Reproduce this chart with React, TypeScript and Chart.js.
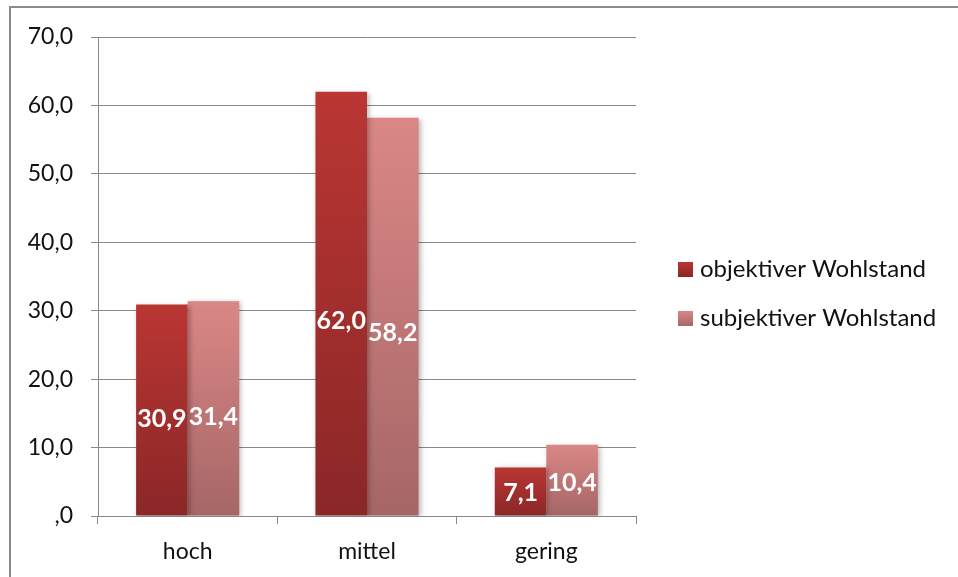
import React, { useEffect, useRef } from "react";
import { Chart, registerables } from "chart.js";

Chart.register(...registerables);

const categories = ["hoch", "mittel", "gering"];
const seriesNames = ["objektiver Wohlstand", "subjektiver Wohlstand"];
const objektiv = [30.9, 62.0, 7.1];
const subjektiv = [31.4, 58.2, 10.4];
const valueLabelsObj = ["30,9", "62,0", "7,1"];
const valueLabelsSubj = ["31,4", "58,2", "10,4"];
const yTickLabels = [",0", "10,0", "20,0", "30,0", "40,0", "50,0", "60,0", "70,0"];

const gradObj = ["#ba3633", "#8a2727"];
const gradSubj = ["#da8786", "#a66666"];

const FONT = "Lato, 'Open Sans', sans-serif";

function barGradient(colors: string[]) {
  return (ctx: any) => {
    const chart = ctx.chart;
    const ys = chart.scales && chart.scales.y;
    if (!chart.chartArea || !ys || ctx.raw === undefined) return colors[0];
    const top = ys.getPixelForValue(ctx.raw);
    const base = ys.getPixelForValue(0);
    if (!isFinite(top) || !isFinite(base) || top === base) return colors[0];
    const g = chart.ctx.createLinearGradient(0, top, 0, base);
    g.addColorStop(0, colors[0]);
    g.addColorStop(1, colors[1]);
    return g;
  };
}

const borderPlugin = {
  id: "outerBorder",
  beforeDraw(chart: any) {
    const c = chart.ctx;
    c.save();
    c.strokeStyle = "#8a8a8a";
    c.lineWidth = 2;
    c.strokeRect(10, 7, 2000, 2000);
    c.restore();
  },
};

const shadowPlugin = {
  id: "barShadow",
  beforeDatasetsDraw(chart: any) {
    const c = chart.ctx;
    c.save();
    c.shadowColor = "rgba(0,0,0,0.28)";
    c.shadowBlur = 5;
    c.shadowOffsetX = 2;
    c.shadowOffsetY = 1;
  },
  afterDatasetsDraw(chart: any) {
    chart.ctx.restore();
  },
};

const labelPlugin = {
  id: "valueLabels",
  afterDatasetsDraw(chart: any) {
    const c = chart.ctx;
    const all = [valueLabelsObj, valueLabelsSubj];
    c.save();
    c.fillStyle = "#ffffff";
    c.font = `bold 25px ${FONT}`;
    c.textAlign = "center";
    c.textBaseline = "middle";
    chart.data.datasets.forEach((ds: any, di: number) => {
      const meta = chart.getDatasetMeta(di);
      meta.data.forEach((el: any, i: number) => {
        const { x, y, base } = el.getProps(["x", "y", "base"], true);
        const ty = base - (base - y) * 0.46;
        c.fillText(all[di][i], x, ty);
      });
    });
    c.restore();
  },
};

const legendPlugin = {
  id: "sideLegend",
  afterDraw(chart: any) {
    const c = chart.ctx;
    const area = chart.chartArea;
    const x0 = area.right + 42;
    const mid = (area.top + area.bottom) / 2;
    const rows = [
      { name: seriesNames[0], colors: gradObj, y: mid - 7 },
      { name: seriesNames[1], colors: gradSubj, y: mid + 42 },
    ];
    c.save();
    rows.forEach((r) => {
      const g = c.createLinearGradient(0, r.y - 7.5, 0, r.y + 7.5);
      g.addColorStop(0, r.colors[0]);
      g.addColorStop(1, r.colors[1]);
      c.fillStyle = g;
      c.fillRect(x0, r.y - 7.5, 15, 15);
      c.fillStyle = "#111";
      c.font = `24px ${FONT}`;
      c.textAlign = "left";
      c.textBaseline = "middle";
      c.fillText(r.name, x0 + 22, r.y);
    });
    c.restore();
  },
};

export default function App() {
  const ref = useRef<HTMLCanvasElement | null>(null);
  useEffect(() => {
    document.body.style.margin = "0";
    if (!ref.current) return;
    const chart = new Chart(ref.current, {
      type: "bar",
      data: {
        labels: categories,
        datasets: [
          {
            label: seriesNames[0],
            data: objektiv,
            backgroundColor: barGradient(gradObj),
            categoryPercentage: 0.575,
            barPercentage: 1,
          },
          {
            label: seriesNames[1],
            data: subjektiv,
            backgroundColor: barGradient(gradSubj),
            categoryPercentage: 0.575,
            barPercentage: 1,
          },
        ],
      },
      options: {
        animation: false,
        responsive: true,
        maintainAspectRatio: false,
        layout: { padding: { left: 10, top: 37, right: 322, bottom: 0 } },
        plugins: {
          legend: { display: false },
          tooltip: { enabled: false },
        },
        scales: {
          x: {
            grid: {
              display: true,
              drawOnChartArea: false,
              drawTicks: true,
              tickLength: 8,
              color: "#888",
              offset: true,
            },
            border: { color: "#888", width: 1 },
            ticks: {
              color: "#111",
              font: { family: FONT, size: 23 },
              padding: 14,
            },
            afterFit: (s: any) => {
              s.height = 61;
            },
          },
          y: {
            min: 0,
            max: 70,
            ticks: {
              stepSize: 10,
              color: "#111",
              font: { family: FONT, size: 23 },
              padding: 18,
              callback: (_v: any, i: number) => yTickLabels[i],
            },
            grid: { color: "#888", tickLength: 7, lineWidth: 1 },
            border: { color: "#888", width: 1 },
            afterFit: (s: any) => {
              s.width = 88;
            },
          },
        },
      },
      plugins: [borderPlugin, shadowPlugin, labelPlugin, legendPlugin],
    });
    return () => chart.destroy();
  }, []);
  return (
    <div style={{ position: "relative", width: 958, height: 577 }}>
      <canvas ref={ref} />
    </div>
  );
}
